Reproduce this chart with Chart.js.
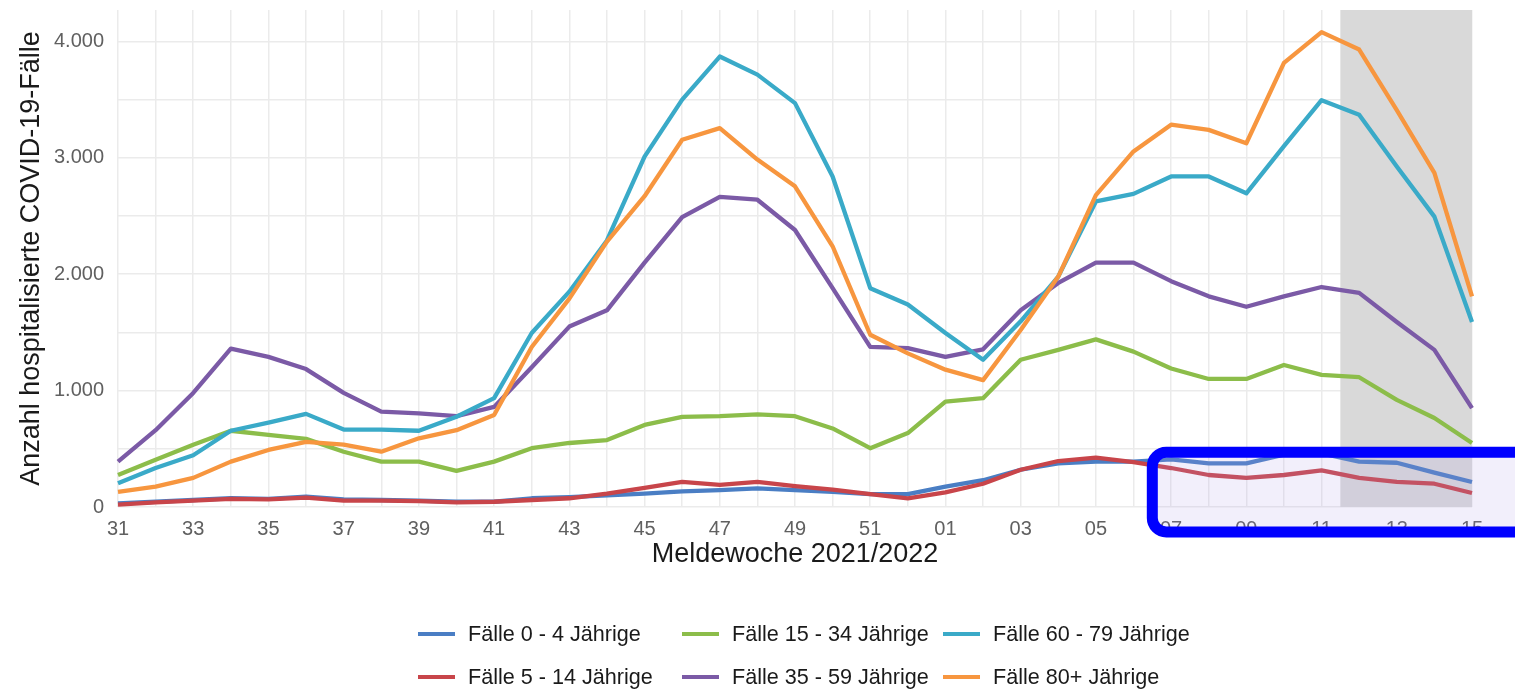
<!DOCTYPE html>
<html>
<head>
<meta charset="utf-8">
<script src="https://cdn.jsdelivr.net/npm/chart.js@4.4.1/dist/chart.umd.min.js"></script>
<style>
  html, body { margin: 0; padding: 0; background: #fff; }
  #wrap { position: relative; width: 1515px; height: 691px; overflow: hidden; font-family: "Liberation Sans", Arial, sans-serif; }
  #chart { position: absolute; left: 0; top: 0; }
  #legend { position: absolute; left: 418px; top: 612px; display: grid; grid-template-columns: 264px 261px auto; grid-template-rows: 43px 43px; grid-auto-flow: column; }
  .item { display: flex; align-items: center; font-size: 21.6px; color: #1a1a1a; white-space: nowrap; }
  .sw { width: 37px; height: 4px; margin-right: 13px; }
</style>
</head>
<body>
<div id="wrap">
  <canvas id="chart" width="1515" height="691"></canvas>
  <div id="legend"></div>
</div>
<script>
// === Daten (Meldewoche 31/2021 bis 15/2022) ===
const weeks = ['31','32','33','34','35','36','37','38','39','40','41','42','43','44','45','46','47','48','49','50','51','52',
               '01','02','03','04','05','06','07','08','09','10','11','12','13','14','15'];

const seriesNames = ['Fälle 0 - 4 Jährige', 'Fälle 5 - 14 Jährige', 'Fälle 15 - 34 Jährige',
                     'Fälle 35 - 59 Jährige', 'Fälle 60 - 79 Jährige', 'Fälle 80+ Jährige'];
const seriesColors = ['#4a7ec4', '#c8454a', '#8cbd4a', '#7b5aa6', '#3aaac8', '#f7963f'];

const faelle0_4 = [30,45,60,75,70,90,65,60,55,45,45,75,85,100,115,135,145,160,145,130,110,110,
                   175,230,320,375,390,390,410,375,375,450,460,390,380,295,215];
const faelle5_14 = [20,40,55,70,65,80,55,55,50,40,45,60,75,115,165,215,190,215,180,150,110,75,
                    125,200,320,395,425,385,335,275,250,275,315,250,215,200,120];
const faelle15_34 = [275,405,535,655,620,585,475,390,390,310,390,505,550,575,705,775,780,795,780,675,505,635,
                     905,935,1265,1350,1440,1335,1190,1100,1100,1220,1135,1115,920,765,550];
const faelle35_59 = [390,660,980,1360,1290,1185,980,820,805,780,860,1200,1550,1690,2100,2490,2665,2640,2380,1880,1375,1365,
                     1290,1355,1690,1925,2100,2100,1940,1810,1720,1810,1890,1840,1590,1350,850];
const faelle60_79 = [205,335,445,655,725,800,665,665,655,775,935,1495,1850,2290,3010,3500,3870,3715,3470,2840,1880,1740,
                     1495,1265,1595,1980,2625,2690,2840,2840,2695,3100,3495,3370,2925,2495,1590];
const faelle80 = [130,175,250,390,490,560,535,475,590,660,790,1375,1790,2280,2670,3155,3255,2985,2755,2240,1480,1320,
                  1180,1090,1520,1980,2680,3055,3285,3240,3125,3815,4080,3930,3410,2870,1810];

const allSeries = [faelle0_4, faelle5_14, faelle15_34, faelle35_59, faelle60_79, faelle80];

// Gitterlinien der y-Achse (beschriftet nur die Tausender)
const yGrid = [0, 500, 1000, 1500, 2000, 2500, 3000, 3500, 4000];
const yMax = 4270;

// Grau hinterlegter Zeitraum (Index der Wochen) und Hervorhebungsrahmen
const shadeFrom = 32.5, shadeTo = 36;
const boxFrom = 27.5, boxTopValue = 470;

function fmtDE(v) {
  return String(v).replace(/\B(?=(\d{3})+(?!\d))/g, '.');
}

const shadePlugin = {
  id: 'shade',
  beforeDatasetsDraw(chart) {
    const { ctx, chartArea, scales: { x, y } } = chart;
    const x0 = x.getPixelForValue(shadeFrom);
    const x1 = x.getPixelForValue(shadeTo);
    const y0 = y.getPixelForValue(0);
    ctx.save();
    ctx.fillStyle = '#d9d9d9';
    ctx.fillRect(x0, chartArea.top, x1 - x0, y0 - chartArea.top);
    ctx.restore();
  },
  afterDraw(chart) {
    const { ctx, chartArea, scales: { x, y } } = chart;
    const left = x.getPixelForValue(boxFrom);
    const top = y.getPixelForValue(boxTopValue);
    const bottom = chartArea.bottom + 25;
    const right = chart.width + 30;
    ctx.save();
    ctx.beginPath();
    ctx.roundRect(left, top, right - left, bottom - top, 14);
    ctx.fillStyle = 'rgba(175,155,230,0.16)';
    ctx.fill();
    ctx.lineWidth = 11;
    ctx.strokeStyle = '#0000ff';
    ctx.stroke();
    ctx.restore();
  }
};

const gridColor = '#ebebeb';
const tickColor = '#606060';

new Chart(document.getElementById('chart'), {
  type: 'line',
  data: {
    labels: weeks,
    datasets: allSeries.map((data, i) => ({
      label: seriesNames[i],
      data: data,
      borderColor: seriesColors[i],
      backgroundColor: seriesColors[i],
      borderWidth: 4.3,
      pointRadius: 0,
      tension: 0,
      borderJoinStyle: 'round',
      fill: false,
      order: allSeries.length - i
    }))
  },
  options: {
    responsive: false,
    animation: false,
    layout: { padding: { left: 15, right: 43, top: 10, bottom: 120 } },
    plugins: { legend: { display: false }, tooltip: { enabled: false } },
    scales: {
      x: {
        offset: false,
        grid: { color: gridColor, lineWidth: 1.5, drawTicks: false },
        border: { display: false },
        ticks: {
          autoSkip: false, maxRotation: 0, padding: 10,
          color: tickColor, font: { family: 'Liberation Sans', size: 20 },
          callback: (v, i) => i % 2 === 0 ? weeks[i] : ''
        },
        title: {
          display: true, text: 'Meldewoche 2021/2022', color: '#1a1a1a',
          font: { family: 'Liberation Sans', size: 27 }, padding: { top: 0, bottom: 0 }
        },
        afterFit: s => { s.height = 64; s.paddingLeft = 0; s.paddingRight = 0; }
      },
      y: {
        min: 0, max: yMax,
        afterBuildTicks: s => { s.ticks = yGrid.map(v => ({ value: v })); },
        grid: { color: gridColor, lineWidth: 1.5, drawTicks: false },
        border: { display: false },
        ticks: {
          autoSkip: false, padding: 14,
          color: tickColor, font: { family: 'Liberation Sans', size: 20 },
          callback: v => v % 1000 === 0 ? fmtDE(v) : ''
        },
        title: {
          display: true, text: 'Anzahl hospitalisierte COVID-19-Fälle', color: '#1a1a1a',
          font: { family: 'Liberation Sans', size: 27 }, padding: { top: 0, bottom: 0 }
        },
        afterFit: s => { s.width = 103; s.paddingTop = 0; s.paddingBottom = 0; }
      }
    }
  },
  plugins: [shadePlugin]
});

// Legende (spaltenweise wie im Original)
const legend = document.getElementById('legend');
seriesNames.forEach((name, i) => {
  const item = document.createElement('div');
  item.className = 'item';
  const sw = document.createElement('span');
  sw.className = 'sw';
  sw.style.background = seriesColors[i];
  item.appendChild(sw);
  item.appendChild(document.createTextNode(name));
  legend.appendChild(item);
});
</script>
</body>
</html>
